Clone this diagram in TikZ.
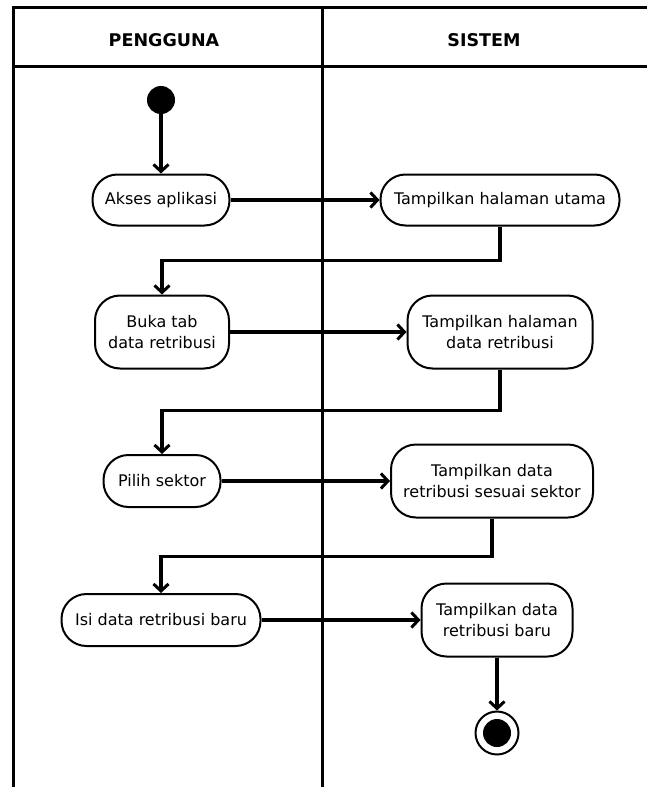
\documentclass[tikz,border=0pt]{standalone}
\usepackage{fontspec}
\setmainfont{DejaVu Sans}
\usetikzlibrary{arrows.meta}
\begin{document}
\begin{tikzpicture}[x=1pt,y=-1pt,
  lane/.style={line width=3pt},
  act/.style={draw, line width=2pt, rounded corners=25pt, align=center,
    inner sep=0pt, font=\fontsize{16}{21.5}\selectfont},
  flow/.style={line width=3.2pt, -{Straight Barb[length=7pt,width=15pt,line width=3pt]}},
  hdr/.style={font=\bfseries\fontsize{17.5}{20}\selectfont}]
\useasboundingbox (0,0) rectangle (647,787);
% swimlane frame
\draw[lane] (13,787) -- (13,7) -- (647,7);
\draw[lane] (13,66) -- (647,66);
\draw[lane] (322,7) -- (322,787);
\node[hdr] (hpengguna) at (164,40) {PENGGUNA};
\node[hdr] (hsistem) at (484,40) {SISTEM};
% start and end states
\node[circle, fill=black, minimum size=28pt, inner sep=0pt] (start) at (161,100) {};
\node[circle, draw, line width=2pt, minimum size=43pt, inner sep=0pt] (end) at (497,733) {};
\node[circle, fill=black, minimum size=28pt, inner sep=0pt] (endin) at (497,733) {};
% activities
\node[act, minimum width=137pt, minimum height=51pt] (a1) at (161,200) {Akses aplikasi};
\node[act, minimum width=239pt, minimum height=51pt] (s1) at (500,200) {Tampilkan halaman utama};
\node[act, minimum width=134pt, minimum height=73pt] (a2) at (162,332) {Buka tab\\data retribusi};
\node[act, minimum width=185pt, minimum height=73pt] (s2) at (500,332) {Tampilkan halaman\\data retribusi};
\node[act, minimum width=117pt, minimum height=52pt] (a3) at (162,481) {Pilih sektor};
\node[act, minimum width=202pt, minimum height=73pt] (s3) at (492,481) {Tampilkan data\\retribusi sesuai sektor};
\node[act, minimum width=199pt, minimum height=52pt] (a4) at (161,620) {Isi data retribusi baru};
\node[act, minimum width=151pt, minimum height=73pt] (s4) at (497,620) {Tampilkan data\\retribusi baru};
% control flow
\draw[flow] (start) -- (a1);
\draw[flow] (a1.east) -- (s1.west);
\draw[flow] (s1.south) -- ++(0,34) -| (a2.north);
\draw[flow] (a2.east) -- (s2.west);
\draw[flow] (s2.south) -- ++(0,41) -| (a3.north);
\draw[flow] (a3.east) -- (s3.west);
\draw[flow] (s3.south) -- ++(0,38) -| (a4.north);
\draw[flow] (a4.east) -- (s4.west);
\draw[flow] (s4.south) -- (end.north);
\end{tikzpicture}
\end{document}
